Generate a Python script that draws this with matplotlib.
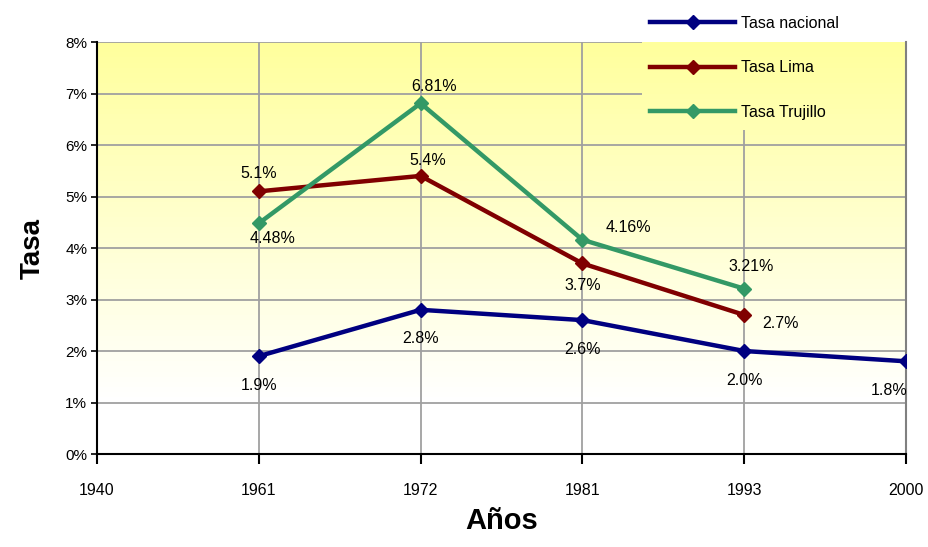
import numpy as np
import matplotlib.pyplot as plt
from matplotlib.colors import LinearSegmentedColormap

plt.rcParams['font.family'] = ['Liberation Sans', 'DejaVu Sans']

anios = ['1940', '1961', '1972', '1981', '1993', '2000']
nacional = [np.nan, 1.9, 2.8, 2.6, 2.0, 1.8]
lima = [np.nan, 5.1, 5.4, 3.7, 2.7, np.nan]
trujillo = [np.nan, 4.48, 6.81, 4.16, 3.21, np.nan]

lbl_nacional = ['', '1.9%', '2.8%', '2.6%', '2.0%', '1.8%']
lbl_lima = ['', '5.1%', '5.4%', '3.7%', '2.7%', '']
lbl_trujillo = ['', '4.48%', '6.81%', '4.16%', '3.21%', '']

fig = plt.figure(figsize=(9.29, 5.47), dpi=100)
ax = fig.add_axes([0.1044, 0.170, 0.8709, 0.7532])
x = np.arange(len(anios))

ax.set_xlim(0, 5)
ax.set_ylim(0, 8)

# fondo degradado amarillo -> blanco, en franjas
cmap = LinearSegmentedColormap.from_list('fondo', ['#ffffff', '#ffff9c'])
bordes = np.linspace(1, 8, 71)
for y0, y1 in zip(bordes[:-1], bordes[1:]):
    t = ((y0 + y1) / 2 - 1) / 7
    ax.axhspan(y0, y1, color=cmap(t), linewidth=0, zorder=0)

ax.set_xticks(x)
ax.set_xticklabels(anios)
ax.set_yticks(range(9))
ax.set_yticklabels([f'{i}%' for i in range(9)])

# rejilla (la leyenda la tapa en la esquina superior derecha)
x_ley, y_ley = 3.37, 6.3
gkw = dict(color='#a0a0a0', linewidth=1.3, zorder=1)
for yv in range(1, 9):
    ax.hlines(yv, 0, x_ley if yv > y_ley else 5, **gkw)
for xv in x[1:-1]:
    ax.vlines(xv, 0, y_ley if xv > x_ley else 8, **gkw)

ax.spines['top'].set_visible(False)
ax.spines['right'].set_color('#808080')
ax.spines['right'].set_linewidth(1.5)
ax.spines['left'].set_linewidth(1.5)
ax.spines['bottom'].set_linewidth(1.5)
for s in ax.spines.values():
    s.set_zorder(2)
ax.tick_params(axis='x', length=7, width=1.5, pad=14, labelsize=11.5)
ax.tick_params(axis='y', length=4, width=1.2, pad=3, labelsize=11)

kw = dict(linewidth=3.2, marker='D', markersize=7, zorder=3)
ax.plot(x, nacional, color='#000080', label='Tasa nacional', **kw)
ax.plot(x, lima, color='#800000', label='Tasa Lima', **kw)
ax.plot(x, trujillo, color='#339966', label='Tasa Trujillo', **kw)

fs = 11.5
for xi, v, t in zip(x, nacional, lbl_nacional):
    if t:
        dx = -12 if xi == 5 else 0
        ax.annotate(t, (xi, v), xytext=(dx, -21), textcoords='offset points',
                    ha='center', va='center', fontsize=fs, zorder=4)
offs_lima = [None, (0, 13), (5, 11), (0, -16), (26, -6)]
for xi, v, t, o in zip(x, lima, lbl_lima, offs_lima):
    if t:
        ax.annotate(t, (xi, v), xytext=o, textcoords='offset points',
                    ha='center', va='center', fontsize=fs, zorder=4)
offs_tru = [None, (10, -11), (10, 12), (33, 9), (5, 16)]
for xi, v, t, o in zip(x, trujillo, lbl_trujillo, offs_tru):
    if t:
        ax.annotate(t, (xi, v), xytext=o, textcoords='offset points',
                    ha='center', va='center', fontsize=fs, zorder=4)

ax.set_ylabel('Tasa', fontsize=20, fontweight='bold', labelpad=14)
ax.set_xlabel('Años', fontsize=21, fontweight='bold', labelpad=6)

fig.legend(loc='upper left', bbox_to_anchor=(0.693, 0.983), frameon=False,
           fontsize=11.5, handlelength=5.3, labelspacing=1.85,
           handletextpad=0.4, borderaxespad=0)

fig.savefig('out.png', dpi=100)
